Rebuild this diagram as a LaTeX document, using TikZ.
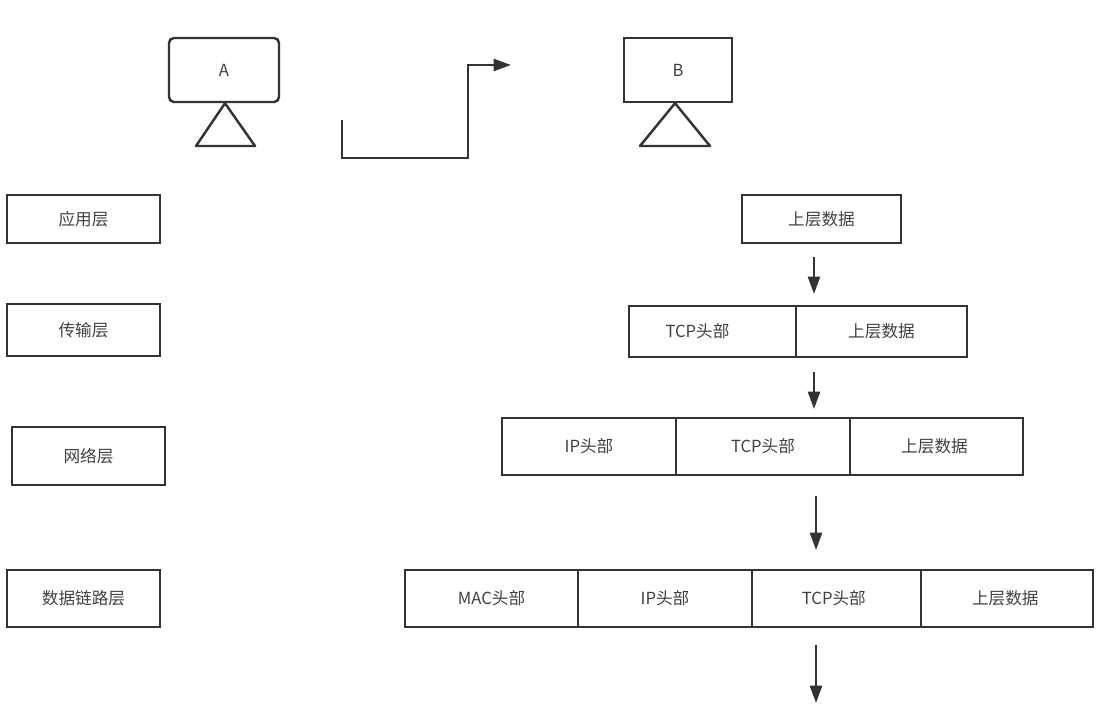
\documentclass[tikz,border=0pt]{standalone}
\usepackage{fontspec}
\usepackage{xcolor}
\setmainfont{Noto Sans CJK SC}
\usetikzlibrary{arrows.meta}
\definecolor{linegray}{RGB}{51,51,51}
\definecolor{textgray}{RGB}{64,64,64}
\tikzset{
  laybox/.style={draw=linegray, line width=2.1pt, text=textgray, font=\fontsize{14.2}{17}\selectfont, minimum width=#1*0.03cm, inner sep=0pt},
  hostbox/.style={laybox=#1, minimum height=1.92cm},
  flowarrow/.style={-{Triangle[length=5.2mm,width=3.6mm]}, draw=linegray, line width=2.1pt},
  hostline/.style={draw=linegray, line width=2.1pt, line join=round}
}
\begin{document}
\begin{tikzpicture}[x=0.03cm, y=-0.03cm]
\useasboundingbox (0,0) rectangle (1108,707);
% hosts
\node[hostbox=110, rounded corners=1.5mm] (hostA) at (224,70) {A};
\node[hostbox=108] (hostB) at (678,70) {B};
\draw[hostline] (hostA.south -| 225,0) -- (196,146) -- (255,146) -- cycle;
\draw[hostline] (hostB.south -| 675,0) -- (640,146) -- (710,146) -- cycle;
\coordinate (routeStart) at (342,120);
\coordinate (routeEnd) at (511,65);
\draw[flowarrow, line join=miter] (routeStart) |- (468,158) |- (routeEnd);
% layers
\node[laybox=153, minimum height=1.44cm] (appLayer) at (83.5,219) {应用层};
\node[laybox=153, minimum height=1.56cm] (tcpLayer) at (83.5,330) {传输层};
\node[laybox=153, minimum height=1.74cm] (ipLayer) at (88.5,456) {网络层};
\node[laybox=153, minimum height=1.71cm] (macLayer) at (83.5,598.5) {数据链路层};
% packets
\node[laybox=159, minimum height=1.44cm] (appData) at (821.5,219) {上层数据};
\node[laybox=167, minimum height=1.53cm] (rowTwoTcp) at (712.5,331.5) {\hspace*{-0.9cm}TCP头部};
\node[laybox=171, minimum height=1.53cm] (rowTwoData) at (881.5,331.5) {上层数据};
\node[laybox=174, minimum height=1.71cm] (rowThreeIp) at (589,446.5) {IP头部};
\node[laybox=174, minimum height=1.71cm] (rowThreeTcp) at (763,446.5) {TCP头部};
\node[laybox=173, minimum height=1.71cm] (rowThreeData) at (936.5,446.5) {\hspace*{-0.12cm}上层数据};
\node[laybox=173, minimum height=1.71cm] (rowFourMac) at (491.5,598.5) {MAC头部};
\node[laybox=174, minimum height=1.71cm] (rowFourIp) at (665,598.5) {IP头部};
\node[laybox=169, minimum height=1.71cm] (rowFourTcp) at (836.5,598.5) {\hspace*{-0.16cm}TCP头部};
\node[laybox=172, minimum height=1.71cm] (rowFourData) at (1007,598.5) {\hspace*{-0.1cm}上层数据};
% arrows between rows
\foreach \name/\px/\ya/\yb in {one/814/257/294, two/814/372/409, three/816/496/550, four/816/645/703} {
  \coordinate (\name Top) at (\px,\ya);
  \coordinate (\name Tip) at (\px,\yb);
  \draw[flowarrow] (\name Top) -- (\name Tip);
}
\end{tikzpicture}
\end{document}
